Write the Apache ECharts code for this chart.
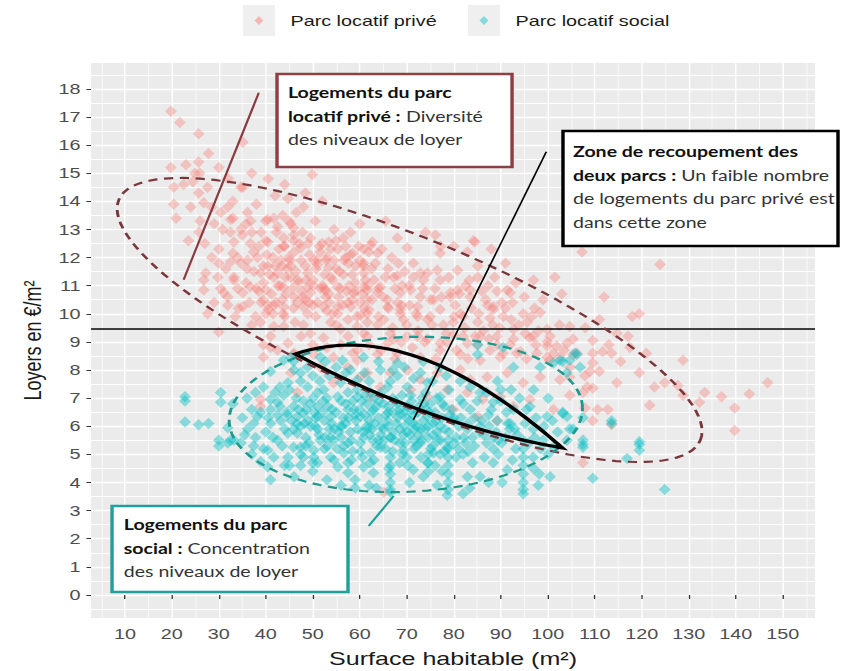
<!DOCTYPE html>
<html>
<head>
<meta charset="utf-8">
<script src="https://cdn.jsdelivr.net/npm/echarts@6/dist/echarts.min.js"></script>
<style>
  html, body { margin: 0; padding: 0; background: #ffffff; overflow: hidden; }
  /* the figure is laid out narrow and widened horizontally, like the original export */
  #chart { width: 638px; height: 671px; transform: scaleX(1.3197); transform-origin: 0 0; }
</style>
</head>
<body>
<div id="chart"></div>
<script>
// Surface (m²) and rent (€/m²) of each dwelling, private rental stock
const privateRents = [
  [19.8,17.2],[21.7,16.8],[25.7,16.4],[35.1,16.1],[27.8,15.7],[25.7,15.4],[23.0,15.3],[19.8,15.2],[30.0,15.2],[24.9,15.0],
  [25.9,15.0],[20.4,14.5],[24.5,14.7],[25.7,14.3],[27.6,14.5],[35.1,14.5],[20.4,13.9],[26.8,13.95],[20.9,13.4],[30.4,13.6],
  [32.5,13.35],[36.1,13.6],[30.8,13.0],[35.8,13.2],[40.4,13.35],[25.8,12.9],[30.0,12.3],[33.2,12.55],[37.4,12.2],[40.4,12.55],
  [43.8,12.4],[32.5,11.85],[30.0,11.8],[36.1,11.9],[27.2,11.45],[29.8,11.3],[33.2,11.3],[35.8,11.1],[38.9,11.45],[41.7,11.3],
  [26.8,10.85],[31.0,10.75],[35.1,10.75],[40.0,10.85],[43.7,10.95],[31.9,10.3],[35.1,10.25],[40.4,10.3],[27.6,10.0],[43.7,10.0],
  [30.0,9.35],[38.9,9.7],[41.7,9.55],[34.7,14.5],[31.9,13.8],[33.0,13.4],[36.8,13.3],[34.7,13.0],[40.0,13.3],[41.7,13.4],
  [43.6,13.5],[44.9,13.3],[44.7,14.1],[45.9,13.05],[49.5,12.7],[49.9,14.95],[58.0,12.9],[48.4,14.3],[42.5,13.1],[45.3,13.2],
  [47.8,12.9],[45.9,12.6],[53.4,12.55],[47.4,12.35],[51.6,12.2],[55.3,12.3],[58.5,12.15],[62.3,12.45],[63.8,12.15],[70.1,12.35],
  [76.1,12.8],[84.2,12.6],[77.1,12.15],[82.9,12.2],[50.2,11.9],[43.2,11.9],[53.4,11.65],[57.6,11.8],[60.8,11.7],[68.0,11.35],
  [71.4,11.3],[74.4,11.45],[80.8,11.55],[85.1,11.3],[45.3,11.3],[48.9,10.95],[52.7,10.85],[58.6,10.75],[63.8,10.75],[65.9,10.5],
  [70.8,10.85],[75.1,10.5],[79.3,10.75],[83.5,10.85],[88.4,10.25],[92.0,10.75],[94.8,10.0],[99.0,10.5],[42.1,10.4],[48.0,10.25],
  [55.3,10.25],[61.6,10.0],[68.6,10.0],[72.3,9.9],[82.0,9.9],[33.0,12.15],[36.7,12.5],[40.0,12.6],[43.8,12.7],[45.9,12.8],
  [53.8,12.3],[60.8,12.3],[34.7,11.8],[38.2,12.0],[40.4,11.7],[42.5,11.45],[45.3,11.7],[48.9,11.45],[51.0,11.75],[53.8,11.3],
  [60.8,11.45],[26.8,11.2],[30.4,10.9],[33.2,11.2],[36.7,10.95],[46.9,11.1],[49.5,10.75],[52.3,10.9],[55.3,10.95],[60.8,10.95],
  [31.9,10.6],[34.2,10.2],[39.4,10.5],[40.5,10.15],[43.8,10.25],[46.7,10.4],[48.9,10.0],[52.3,10.25],[55.3,10.0],[58.1,10.25],
  [60.2,9.95],[41.0,9.2],[43.8,9.55],[48.0,9.6],[53.8,9.7],[55.9,9.45],[59.5,9.55],[41.0,8.8],[44.7,8.95],[45.9,8.55],
  [39.5,8.45],[62.7,12.55],[77.2,12.4],[84.5,12.55],[107.3,12.2],[60.8,11.8],[67.2,11.3],[72.9,11.45],[76.5,11.55],[77.1,11.2],
  [80.8,10.85],[85.1,11.7],[89.2,10.8],[91.4,10.85],[61.6,10.85],[64.4,10.95],[68.6,10.75],[72.9,10.6],[75.7,10.5],[79.3,10.6],
  [83.5,10.6],[86.8,10.5],[98.4,10.05],[61.9,10.15],[65.9,10.25],[68.6,10.15],[72.3,10.25],[77.1,10.15],[81.4,10.0],[88.4,10.15],
  [90.5,9.9],[61.6,9.7],[65.1,9.8],[69.3,9.8],[74.4,9.8],[79.9,9.7],[85.1,9.7],[87.7,9.85],[95.6,9.7],[104.7,9.55],
  [92.7,9.45],[99.9,9.45],[61.6,9.2],[67.2,9.1],[72.3,9.2],[77.1,8.95],[82.0,9.2],[85.6,9.2],[89.2,9.2],[92.7,9.1],
  [96.2,9.15],[99.9,9.0],[101.9,8.85],[105.4,9.1],[87.7,8.7],[93.4,8.6],[97.7,8.6],[100.4,8.35],[102.6,8.45],[106.2,8.6],
  [123.9,11.75],[109.6,9.05],[114.7,9.3],[119.5,10.0],[101.2,8.6],[117.5,8.8],[109.6,8.6],[128.8,8.35],[117.1,9.2],[105.4,8.55],
  [111.7,8.65],[113.6,8.6],[109.6,8.25],[109.0,7.95],[111.0,7.95],[104.7,7.75],[107.9,7.8],[119.5,7.9],[114.7,7.55],[122.7,7.4],
  [124.9,7.55],[127.7,7.45],[108.4,7.4],[109.6,7.35],[107.5,7.2],[104.7,7.1],[128.8,7.1],[133.4,7.2],[137.0,7.05],[142.9,7.15],
  [146.8,7.55],[121.7,6.75],[132.3,6.85],[139.8,6.65],[110.6,6.6],[112.8,6.6],[109.6,6.2],[113.6,6.05],[107.9,6.65],[139.8,5.85],
  [107.5,4.7],[49.5,9.3],[52.3,9.15],[57.5,9.2],[60.8,9.3],[65.9,8.95],[70.1,9.2],[74.4,9.1],[79.9,9.25],[82.9,8.95],
  [89.2,8.9],[96.9,9.2],[99.9,8.85],[104.1,8.95],[46.0,8.6],[50.2,8.55],[54.4,8.45],[59.5,8.7],[63.8,8.55],[68.0,8.6],
  [72.9,8.45],[77.1,8.7],[81.4,8.55],[85.6,8.35],[89.9,8.45],[94.2,8.65],[99.9,8.45],[45.3,7.9],[51.6,8.1],[57.5,8.1],
  [60.1,7.75],[66.5,7.9],[70.1,8.0],[72.9,7.65],[76.5,7.9],[81.4,8.0],[83.5,7.65],[87.1,7.75],[91.4,7.9],[94.8,7.55],
  [98.4,7.75],[102.6,7.65],[104.7,8.1],[64.4,7.4],[70.8,7.3],[74.4,7.05],[78.6,7.3],[82.9,7.2],[86.2,6.95],[89.9,7.05],
  [92.7,6.7],[96.2,6.95],[62.3,7.05],[79.9,6.6],[85.1,6.35],[89.2,6.2],[101.2,6.6],[65.1,3.65],[39.5,8.9],[42.5,8.7],
  [38.9,6.95],[38.9,6.7],[46.7,7.2],[54.4,7.55],[59.5,8.35],[61.6,7.9],[43.0,11.0],[44.5,11.6],[46.0,10.6],[47.5,11.9],
  [50.0,11.2],[51.0,10.4],[52.0,12.5],[53.0,10.1],[54.5,11.9],[55.5,10.6],[56.5,11.4],[57.5,9.8],[58.0,12.1],[59.0,11.1],
  [60.0,10.4],[63.0,11.2],[64.0,9.9],[65.0,10.6],[66.0,11.6],[67.0,9.5],[68.0,10.4],[69.0,11.0],[70.0,9.6],[70.6,10.3],
  [71.4,11.8],[72.4,9.4],[73.4,10.9],[75.4,9.6],[77.4,10.6],[78.4,9.3],[80.3,10.3],[82.3,9.5],[83.3,11.2],[85.3,10.0],
  [86.3,9.4],[87.3,11.0],[88.3,9.6],[90.2,10.4],[92.2,9.8],[93.2,11.1],[95.2,9.3],[97.2,10.2],[39.0,10.4],[41.5,12.0],
  [37.5,11.5],[35.0,12.8],[38.0,13.9],[42.0,14.2],[33.0,14.0],[29.0,13.2],[27.0,12.5],[24.0,13.8],[22.5,14.6],
  [38.5,12.4],[39.5,11.1],[40.2,12.1],[41.2,10.7],[42.0,11.7],[42.8,12.3],[43.5,10.5],[44.2,11.3],[44.9,12.0],[45.6,10.9],
  [46.4,11.5],[47.1,12.5],[47.9,10.6],[48.6,11.2],[49.3,12.1],[50.0,10.3],[50.7,11.6],[51.4,12.4],[52.1,11.0],[52.8,11.9],
  [53.5,10.4],[54.2,11.2],[54.9,12.6],[55.6,11.5],[56.3,10.3],[57.0,12.0],[57.7,11.0],[58.4,10.5],[59.1,11.7],[59.8,12.4],
  [60.5,10.7],[61.2,11.2],[61.9,12.2],[62.6,10.5],[63.3,11.8],[64.0,10.9],[64.7,12.3],[65.4,11.3],[66.1,10.2],[66.8,12.0],
  [67.5,10.9],[68.2,11.8],[68.9,10.3],[69.6,11.5],[44.0,9.9],[46.2,9.7],[48.4,10.5],[50.6,9.9],[52.8,10.6],[55.0,9.6],
  [57.2,10.8],[59.4,9.9],[61.6,10.5],[63.8,9.6],[41.5,10.0],[36.5,10.4],[37.8,9.9],[36.0,11.6],[38.0,10.9],[39.0,12.9],
  [42.3,12.9],[46.5,13.6],[50.5,13.3],[54.5,13.0],[56.5,12.7],[48.0,13.8],[52.0,14.0],[44.0,14.6],[40.5,14.8],[37.0,15.0],
  [32.0,14.8],[28.5,13.8],[26.0,13.3],[23.5,12.6],[28.5,12.0],[32.5,12.9],[34.0,12.0],[37.0,12.9],[31.5,11.6],[34.0,10.9],
  [29.0,10.4],[37.0,9.6],[33.5,9.9],[70.5,11.0],[72.0,10.0],[73.5,11.2],[75.0,9.9],[76.0,10.9],[77.8,9.6],[78.9,11.3],
  [80.1,9.9],[81.2,10.7],[82.5,11.0],[83.8,10.2],[84.6,9.2],[86.0,10.8],[87.2,10.3],[88.7,11.3],[89.8,9.5],[91.0,10.2],
  [92.5,10.4],[93.8,9.6],[95.0,10.6],[96.6,9.9],[98.0,9.4],[66.5,9.3],[68.8,9.0],[71.2,8.8],[73.8,9.0],[76.2,8.4],
  [78.5,9.0],[80.6,8.7],[83.0,8.4],[85.0,8.9],[87.5,9.1],[90.5,8.6],[92.0,8.9],[95.5,8.4],[97.5,8.9],[100.5,9.2],
  [102.5,9.6],[103.5,8.7],[56.0,8.9],[58.5,8.6],[62.0,8.9],[64.5,8.7],[67.5,8.4],[53.0,8.8],[50.0,8.9],[47.5,9.2],
  [108.0,9.5],[111.0,9.8],[113.0,8.9],[115.5,8.3],[112.0,10.6],[118.0,9.9],[121.0,8.6],[103.0,10.7],[101.5,11.3],[97.0,11.2],
  [91.0,11.8],[88.0,12.3],[80.0,12.4],[74.0,12.9],[68.0,12.7],[65.5,13.3],[60.0,13.2],
  [40.8,11.4],[41.8,10.3],[42.6,11.0],[43.4,11.7],[44.3,10.7],[45.1,11.9],[45.9,10.2],[46.8,11.2],[47.6,10.8],[48.4,11.7],
  [49.2,10.4],[50.1,11.0],[50.9,11.9],[51.7,10.9],[52.5,11.4],[53.4,10.7],[54.2,10.0],[55.0,11.6],[55.9,10.9],[56.7,11.9],
  [57.5,10.4],[58.4,11.4],[59.2,10.8],[60.0,11.9],[60.9,10.2],[61.7,11.0],[62.5,11.6],[46.0,12.2],[49.0,12.5],[53.0,12.0],
  [57.0,12.4],[44.0,12.4],[39.5,11.7],[38.5,10.8],[40.0,10.0]
];

// Surface (m²) and rent (€/m²) of each dwelling, social rental stock
const socialRents = [
  [22.8,7.05],[22.8,6.9],[30.4,7.2],[30.4,6.85],[22.8,6.15],[25.7,6.05],[27.8,6.1],[31.9,5.95],[30.0,5.5],[31.9,5.4],
  [30.0,5.3],[33.2,5.5],[34.7,5.4],[36.1,5.9],[37.4,6.1],[38.2,6.35],[37.8,7.2],[39.5,7.4],[38.9,4.75],[40.4,4.55],
  [41.0,4.1],[37.4,5.3],[40.4,5.15],[32.5,5.5],[37.8,5.6],[38.9,6.5],[41.0,6.95],[42.5,6.85],[43.8,7.1],[41.0,6.1],
  [43.2,6.2],[42.5,5.5],[41.7,4.9],[45.9,6.7],[46.7,6.35],[47.4,6.0],[44.7,5.75],[45.9,5.25],[48.0,4.9],[48.9,7.4],
  [51.0,7.2],[47.4,7.9],[48.9,8.1],[51.6,8.45],[43.8,8.35],[45.3,8.45],[41.0,7.95],[53.2,6.7],[51.0,6.35],[49.5,6.0],
  [51.6,5.5],[50.2,5.15],[51.0,4.7],[55.3,7.05],[57.5,6.6],[55.9,6.0],[54.4,5.5],[56.6,5.05],[55.3,4.55],[57.5,4.35],
  [59.5,7.05],[60.1,6.35],[61.6,5.9],[60.1,5.4],[62.3,5.05],[60.8,4.55],[62.9,4.35],[45.9,8.3],[52.7,8.3],[56.3,8.35],
  [60.8,8.45],[64.4,8.0],[68.0,8.25],[72.9,7.9],[77.1,8.1],[85.1,8.9],[85.1,8.55],[92.7,8.1],[98.4,8.1],[101.2,8.25],
  [104.7,8.35],[44.7,7.55],[52.3,7.3],[55.9,7.55],[59.5,7.65],[62.3,7.2],[65.9,7.4],[70.1,7.4],[74.4,7.55],[77.1,7.05],
  [81.4,6.95],[85.6,7.2],[88.4,6.85],[92.7,6.6],[96.2,6.7],[99.9,6.35],[103.2,6.45],[48.0,6.45],[51.0,6.7],[53.8,6.35],
  [62.9,6.6],[65.9,6.2],[68.6,6.45],[71.4,6.1],[74.4,6.35],[77.1,6.0],[79.9,6.2],[82.9,5.9],[85.6,6.0],[88.4,5.6],
  [91.9,5.9],[94.8,5.5],[96.9,5.9],[99.0,5.5],[46.7,5.75],[53.8,5.6],[57.5,5.4],[60.8,5.6],[64.4,5.25],[66.5,5.6],
  [69.3,5.15],[72.9,5.4],[75.7,5.05],[78.6,5.25],[66.5,3.65],[78.6,3.55],[94.8,3.6],[82.9,4.2],[85.6,4.2],[88.4,4.7],
  [91.4,4.45],[71.4,4.45],[74.4,4.7],[57.5,4.7],[53.8,4.9],[50.2,4.9],[47.4,5.25],[44.7,4.9],[96.9,4.9],[101.2,5.25],
  [104.1,5.5],[105.4,5.9],[105.8,8.6],[106.9,8.1],[103.2,8.3],[104.1,7.9],[103.2,6.5],[104.1,6.35],[104.7,5.9],[107.5,6.3],
  [113.6,6.2],[113.6,6.1],[107.5,5.5],[107.5,5.35],[107.5,5.25],[119.5,5.45],[119.5,5.35],[119.5,5.15],[116.9,4.85],[109.6,4.15],
  [124.9,3.75],[90.5,8.8],[102.6,8.35],[106.2,8.55],
  [66.5,4.9],[66.5,4.6],[66.5,4.3],[66.5,4.0],[66.5,3.75],
  [78.8,5.5],[78.8,5.2],[78.8,4.9],[78.8,4.6],[78.8,4.3],[78.8,4.0],[78.8,3.75],
  [94.8,5.2],[94.8,4.9],[94.8,4.6],[94.8,4.3],[94.8,4.0],[94.8,3.75],
  [74.6,5.0],[74.6,4.7],[74.6,4.4],
  [42.5,6.4],[44.0,5.9],[45.5,6.2],[46.5,7.0],[48.0,6.9],[49.0,6.2],[50.5,6.0],[51.5,7.6],[52.5,6.2],[53.5,5.9],
  [55.0,6.5],[56.0,6.9],[57.0,6.1],[58.0,5.8],[59.0,6.4],[59.5,7.3],[60.5,6.9],[61.5,6.0],[62.5,6.5],[63.0,7.0],
  [64.0,6.3],[64.5,5.7],[65.0,6.8],[65.5,5.2],[66.0,6.0],[66.5,7.6],[67.0,6.5],[67.5,5.5],[68.0,6.8],[68.5,5.9],
  [69.0,7.1],[69.6,6.0],[69.6,5.4],[70.1,6.7],[70.6,5.7],[71.0,6.9],[71.5,6.4],[72.0,5.3],[72.5,6.7],[73.0,5.9],
  [73.5,6.2],[74.0,7.2],[74.5,5.6],[75.0,6.8],[75.5,5.3],[76.0,6.5],[76.5,5.8],[77.5,6.3],[78.0,5.1],[79.5,6.6],
  [80.5,5.6],[81.5,6.3],[82.5,5.4],[83.5,6.6],[84.4,5.3],[84.4,6.3],[86.4,5.7],[87.4,6.4],[88.4,5.2],[89.3,6.2],
  [90.2,5.4],[91.2,6.5],[93.2,5.2],[95.2,6.1],[97.2,5.6],[99.2,6.0],[100.1,5.0],[102.1,5.8],[47.4,5.0],[47.4,4.6],
  [47.4,7.6],[43.0,7.4],[41.0,6.6],[40.0,5.8],[44.0,4.6],[46.0,4.2],[50.0,4.4],[53.0,4.1],[56.0,3.9],[59.0,4.1],
  [62.0,3.9],[70.6,4.0],[73.5,4.2],[76.5,3.9],[83.4,3.8],[87.4,4.0],[90.3,4.0],[98.2,4.3],[55.0,8.1],[58.0,8.0],
  [61.0,7.9],[69.5,8.1],[68.0,7.8],[73.5,8.3],[78.4,7.8],[81.4,7.6],[89.3,7.6],[92.2,7.3],[100.1,7.0],[35.0,6.3],
  [37.0,5.0],[33.0,6.8],[36.0,7.0],
  [42.0,7.2],[43.0,6.7],[44.5,6.5],[45.0,7.3],[46.0,5.9],[47.0,6.6],[48.5,5.6],[49.5,6.8],[50.0,7.0],[51.0,5.9],
  [52.0,6.5],[53.0,7.0],[54.0,6.1],[55.5,5.8],[56.5,6.3],[57.5,7.2],[58.5,6.9],[59.5,5.9],[60.0,6.6],[61.0,7.1],
  [62.0,6.2],[62.8,5.5],[63.5,6.7],[64.5,7.2],[65.0,5.9],[66.0,6.5],[67.0,7.0],[67.8,6.1],[68.5,6.6],[69.2,5.7],
  [70.0,6.3],[70.8,7.1],[71.6,5.9],[72.4,6.5],[73.2,7.0],[74.0,5.9],[74.8,6.5],[75.6,6.1],[76.4,7.0],[77.2,5.5],
  [78.0,6.7],[79.0,5.8],[80.0,6.3],[81.0,5.2],[82.0,6.8],[83.0,6.1],[84.0,5.6],[85.0,6.9],[86.0,6.2],[87.0,5.4],
  [88.0,6.6],[89.0,5.8],[90.0,6.9],[91.0,5.6],[92.0,6.1],[93.5,5.7],[95.5,6.6],[97.5,6.3],[98.5,5.2],[101.0,6.2],
  [43.5,5.3],[45.0,4.6],[48.5,5.3],[50.0,4.7],[52.5,5.2],[54.5,4.8],[56.0,5.6],[58.5,5.1],[60.5,4.9],[63.0,4.8],
  [64.0,5.5],[67.0,5.1],[68.5,4.7],[70.0,4.9],[71.5,5.5],[73.0,4.9],[76.0,4.6],[77.5,4.4],[80.5,4.9],[82.0,5.0],
  [84.0,4.7],[86.5,4.9],[89.5,5.0],[92.5,4.8],[97.0,4.5],[41.5,5.6],[40.5,6.3],[39.5,5.2],[37.0,6.6],[35.5,5.7],
  [46.0,8.0],[50.0,7.8],[53.5,7.8],[57.0,7.9],[62.0,7.6],[64.0,8.3],[67.0,8.0],[71.5,7.7],[75.5,7.6],[79.0,7.3],
  [83.5,7.4],[87.0,7.2],[90.0,7.3],[94.0,7.0],[97.0,7.3],[59.0,3.8],[63.5,3.8],[82.0,3.6],[98.0,3.9],[100.5,4.2],
  [48.2,6.1],[49.2,5.4],[50.3,6.5],[51.3,5.7],[52.2,6.9],[53.1,5.3],[54.1,6.6],[55.2,5.2],[56.2,6.0],[57.1,6.8],
  [58.2,5.5],[59.2,6.2],[60.2,5.1],[61.1,6.4],[62.1,5.7],[63.1,6.1],[64.1,6.9],[65.1,5.5],[66.1,6.7],[67.1,5.8],
  [68.1,6.3],[69.1,5.0],[70.1,5.8],[71.1,6.6],[72.1,6.0],[73.1,5.5],[74.1,6.6],[75.1,5.2],[76.1,6.2],[77.1,5.0],
  [78.1,5.9],[79.1,6.4],[80.1,5.4],[81.1,6.0],[82.1,5.6],[83.1,5.1],[56.6,5.3],[58.8,6.6],[61.6,6.8],[63.6,5.3],
  [65.6,6.4],[67.6,6.9],[69.6,6.5],[71.6,5.2],[73.6,6.8],[75.6,5.7],[77.6,6.8],[57.6,6.3],[62.6,5.9],[66.6,5.6],
  [70.6,6.2],[74.6,6.0],[76.6,5.5],[60.6,5.8],[64.6,6.0],[68.6,5.4],[72.6,5.7],[54.6,5.9],[52.6,5.6],[50.6,6.3],
  [48.6,6.6],[46.6,6.1],[44.6,6.4],[58.2,4.8],[62.2,4.7],[66.2,4.5],[70.2,4.6],[85.5,5.8],[87.5,6.0],[89.5,5.5],
  [91.5,6.1],[93.0,5.9],[96.0,5.4]
];

// Axis breaks
const xTicks = [10, 20, 30, 40, 50, 60, 70, 80, 90, 100, 110, 120, 130, 140, 150];
const xMinorTicks = [5, 15, 25, 35, 45, 55, 65, 75, 85, 95, 105, 115, 125, 135, 145, 155];
const yTicks = [0, 1, 2, 3, 4, 5, 6, 7, 8, 9, 10, 11, 12, 13, 14, 15, 16, 17, 18];
const yMinorTicks = [-0.5, 0.5, 1.5, 2.5, 3.5, 4.5, 5.5, 6.5, 7.5, 8.5, 9.5, 10.5, 11.5, 12.5, 13.5, 14.5, 15.5, 16.5, 17.5, 18.5];

// Rent level separating the two stocks (€/m²)
const rentThreshold = 9.47;

// Annotation shapes in data units: ellipses by centre and two conjugate semi-diameter ends,
// the overlap lens by its two tips and two control points, leader lines by their ends
const privateZone = { center: [70.6, 9.78], end1: [132.5, 5.51], end2: [77.2, 12.48] };
const socialZone = { center: [69.8, 6.42], end1: [107.4, 6.68], end2: [69.15, 9.17] };
const overlapZone = { p1: [46.3, 8.57], c1: [71.1, 9.96], p2: [103.1, 5.23], c2: [74.5, 6.05] };
const privateLeader = [[22.5, 11.21], [38.5, 17.86]];
const overlapLeader = [[71.4, 6.23], [99.7, 15.76]];
const socialLeader = [[61.9, 2.45], [67.2, 3.52]];

const annotations = [
  { kind: 'ellipse', geo: privateZone, stroke: '#7B363B', width: 2.2, dash: [7, 5] },
  { kind: 'ellipse', geo: socialZone, stroke: '#1B9A8D', width: 2.2, dash: [7, 5] },
  { kind: 'lens', geo: overlapZone, stroke: '#000000', width: 3.2 },
  { kind: 'line', geo: privateLeader, stroke: '#8B3A40', width: 1.7 },
  { kind: 'line', geo: overlapLeader, stroke: '#000000', width: 1.3 },
  { kind: 'line', geo: socialLeader, stroke: '#1FA19A', width: 1.8 }
];

function quadPoint(a, c, b, t) {
  const u = 1 - t;
  return [u * u * a[0] + 2 * u * t * c[0] + t * t * b[0], u * u * a[1] + 2 * u * t * c[1] + t * t * b[1]];
}

function renderAnnotation(params, api) {
  const a = annotations[params.dataIndex];
  const base = { stroke: a.stroke, lineWidth: a.width, fill: 'none' };
  if (a.dash) base.lineDash = a.dash;
  if (a.kind === 'ellipse') {
    const c = api.coord(a.geo.center), p = api.coord(a.geo.end1), q = api.coord(a.geo.end2);
    const pts = [];
    const n = 120;
    for (let k = 0; k <= n; k++) {
      const t = (k / n) * Math.PI * 2;
      const ct = Math.cos(t), st = Math.sin(t);
      pts.push([c[0] + ct * (p[0] - c[0]) + st * (q[0] - c[0]), c[1] + ct * (p[1] - c[1]) + st * (q[1] - c[1])]);
    }
    return { type: 'polyline', shape: { points: pts }, style: base, silent: true };
  }
  if (a.kind === 'lens') {
    const p1 = api.coord(a.geo.p1), c1 = api.coord(a.geo.c1), p2 = api.coord(a.geo.p2), c2 = api.coord(a.geo.c2);
    const pts = [];
    const n = 60;
    for (let k = 0; k <= n; k++) pts.push(quadPoint(p1, c1, p2, k / n));
    for (let k = 1; k < n; k++) pts.push(quadPoint(p2, c2, p1, k / n));
    return { type: 'polygon', shape: { points: pts }, style: Object.assign({ lineJoin: 'miter', miterLimit: 20 }, base), silent: true };
  }
  const s = api.coord(a.geo[0]), e = api.coord(a.geo[1]);
  return { type: 'line', shape: { x1: s[0], y1: s[1], x2: e[0], y2: e[1] }, style: base, silent: true };
}

const axisFont = 'Liberation Sans, Arial, sans-serif';
const noteFont = 'Lato, "Open Sans", sans-serif';

function noteRich(color) {
  return {
    b: { fontFamily: noteFont, fontSize: 14.8, fontWeight: 'bold', fill: '#111111', lineHeight: 23.5 },
    n: { fontFamily: noteFont, fontSize: 14.8, fontWeight: 'normal', fill: color, lineHeight: 23.5 }
  };
}

const chart = echarts.init(document.getElementById('chart'), null, { renderer: 'svg' });

const keyIcon = 'path://M0,0M31,31M12.1,11L15.5,15.5L12.1,20L8.7,15.5Z';

chart.setOption({
  animation: false,
  backgroundColor: '#ffffff',
  grid: {
    left: 69, right: 20.4, top: 63, bottom: 53,
    show: true, backgroundColor: '#EBEBEB', borderWidth: 0,
    outerBoundsMode: 'none'
  },
  legend: [
    {
      left: 184.1, top: 5, padding: 0, itemWidth: 31, itemHeight: 31, icon: keyIcon,
      data: ['Parc locatif privé'], selectedMode: false,
      itemStyle: { opacity: 0.45 },
      textStyle: { fontFamily: axisFont, fontSize: 15, color: '#1A1A1A' }
    },
    {
      left: 354.6, top: 5, padding: 0, itemWidth: 31, itemHeight: 31, icon: keyIcon,
      data: ['Parc locatif social'], selectedMode: false,
      itemStyle: { opacity: 0.45 },
      textStyle: { fontFamily: axisFont, fontSize: 15, color: '#1A1A1A' }
    }
  ],
  xAxis: [
    {
      type: 'value', min: 2.8, max: 156.9,
      name: 'Surface habitable (m²)', nameLocation: 'middle', nameGap: 31,
      nameTextStyle: { fontFamily: axisFont, fontSize: 19, color: '#1A1A1A' },
      axisLine: { show: false },
      axisTick: { show: true, customValues: xTicks, length: 4, lineStyle: { color: '#333333', width: 1 } },
      axisLabel: { customValues: xTicks, margin: 8, fontFamily: axisFont, fontSize: 15, color: '#4D4D4D' },
      splitLine: { show: true, lineStyle: { color: '#FFFFFF', width: 1.1 } }
    },
    {
      type: 'value', min: 2.8, max: 156.9, position: 'bottom',
      axisLine: { show: false },
      axisTick: { show: false, customValues: xMinorTicks },
      axisLabel: { show: false, customValues: xMinorTicks },
      splitLine: { show: true, lineStyle: { color: '#FFFFFF', width: 0.6 } }
    }
  ],
  yAxis: [
    {
      type: 'value', min: -0.82, max: 18.92,
      name: 'Loyers en €/m²', nameLocation: 'middle', nameGap: 31,
      nameTextStyle: { fontFamily: axisFont, fontSize: 18, color: '#1A1A1A' },
      axisLine: { show: false },
      axisTick: { show: true, customValues: yTicks, length: 3.5, lineStyle: { color: '#333333', width: 1 } },
      axisLabel: { customValues: yTicks, margin: 8, fontFamily: axisFont, fontSize: 15, color: '#4D4D4D' },
      splitLine: { show: true, lineStyle: { color: '#FFFFFF', width: 1.4 } }
    },
    {
      type: 'value', min: -0.82, max: 18.92, position: 'left',
      axisLine: { show: false },
      axisTick: { show: false, customValues: yMinorTicks },
      axisLabel: { show: false, customValues: yMinorTicks },
      splitLine: { show: true, lineStyle: { color: '#FFFFFF', width: 0.8 } }
    }
  ],
  series: [
    {
      name: 'Parc locatif privé', type: 'scatter', xAxisIndex: 0, yAxisIndex: 0,
      symbol: 'diamond', symbolSize: [9, 11.5],
      itemStyle: { color: '#F8766D', opacity: 0.35 },
      emphasis: { disabled: true },
      data: privateRents, z: 3
    },
    {
      name: 'Parc locatif social', type: 'scatter', xAxisIndex: 0, yAxisIndex: 0,
      symbol: 'diamond', symbolSize: [9, 11.5],
      itemStyle: { color: '#00BFC4', opacity: 0.42 },
      emphasis: { disabled: true },
      data: socialRents, z: 4
    },
    {
      name: 'annotations', type: 'custom', xAxisIndex: 0, yAxisIndex: 0,
      renderItem: renderAnnotation, silent: true, clip: false, z: 6,
      data: annotations.map(function (a, i) { return [i, 0]; }),
      markLine: {
        silent: true, symbol: 'none', label: { show: false },
        lineStyle: { color: '#000000', width: 1.5, type: 'solid' },
        emphasis: { disabled: true },
        data: [{ yAxis: rentThreshold }]
      }
    }
  ],
  graphic: [
    { type: 'rect', z: 0, shape: { x: 184.1, y: 5, width: 24.2, height: 31 }, style: { fill: '#EFEFEF' }, silent: true },
    { type: 'rect', z: 0, shape: { x: 354.6, y: 5, width: 24.2, height: 31 }, style: { fill: '#EFEFEF' }, silent: true },

    { type: 'rect', z: 100, shape: { x: 209.9, y: 74, width: 178.1, height: 93 },
      style: { fill: '#FFFFFF', stroke: '#8E3F44', lineWidth: 2.6 }, silent: true },
    { type: 'text', z: 101, x: 218.2, y: 81.2, silent: true,
      style: {
        text: '{b|Logements du parc}\n{b|locatif privé :}{n| Diversité}\n{n|des niveaux de loyer}',
        rich: noteRich('#333333'), fontFamily: noteFont, fontSize: 14.8, verticalAlign: 'top'
      } },

    { type: 'rect', z: 100, shape: { x: 426.6, y: 131, width: 208.4, height: 115 },
      style: { fill: '#FFFFFF', stroke: '#000000', lineWidth: 2.6 }, silent: true },
    { type: 'text', z: 101, x: 434.2, y: 140.2, silent: true,
      style: {
        text: '{b|Zone de recoupement des}\n{b|deux parcs :}{n| Un faible nombre}\n{n|de logements du parc privé est}\n{n|dans cette zone}',
        rich: noteRich('#333333'), fontFamily: noteFont, fontSize: 14.8, verticalAlign: 'top'
      } },

    { type: 'rect', z: 100, shape: { x: 84.9, y: 506, width: 178.8, height: 86 },
      style: { fill: '#FFFFFF', stroke: '#20A09A', lineWidth: 2.6 }, silent: true },
    { type: 'text', z: 101, x: 93.8, y: 513.2, silent: true,
      style: {
        text: '{b|Logements du parc}\n{b|social :}{n| Concentration}\n{n|des niveaux de loyer}',
        rich: noteRich('#333333'), fontFamily: noteFont, fontSize: 14.8, verticalAlign: 'top'
      } }
  ]
});
</script>
</body>
</html>
